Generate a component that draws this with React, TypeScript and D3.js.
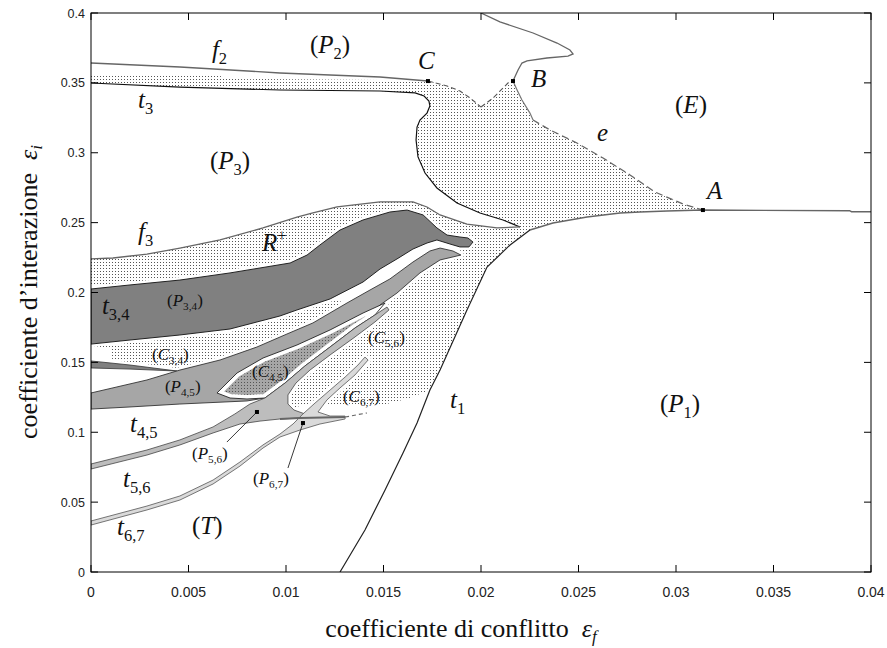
import React from 'react';
import * as d3 from 'd3';

type P = [number, number];

const xTicks = [0, 0.005, 0.01, 0.015, 0.02, 0.025, 0.03, 0.035, 0.04];
const yTicks = [0, 0.05, 0.1, 0.15, 0.2, 0.25, 0.3, 0.35, 0.4];
const xTickLabels = ['0', '0.005', '0.01', '0.015', '0.02', '0.025', '0.03', '0.035', '0.04'];
const yTickLabels = ['0', '0.05', '0.1', '0.15', '0.2', '0.25', '0.3', '0.35', '0.4'];

// boundary curves (data units: [eps_f, eps_i])
const f2Line: P[] = [[0, 0.3642], [0.00456, 0.3614], [0.00969, 0.3571], [0.01482, 0.3542], [0.01728, 0.3513]];
const t3Line: P[] = [[0, 0.3499], [0.00456, 0.347], [0.00969, 0.3449], [0.01482, 0.3442], [0.01662, 0.3428], [0.01708, 0.3406], [0.01733, 0.337], [0.01738, 0.3335], [0.01723, 0.3284], [0.01687, 0.3234], [0.01672, 0.3184], [0.01667, 0.3091], [0.01677, 0.297], [0.01713, 0.2855], [0.01774, 0.2748], [0.01877, 0.264], [0.01995, 0.2569], [0.02113, 0.2519], [0.022, 0.2469]];
const f3Line: P[] = [[0, 0.224], [0.00113, 0.2247], [0.00287, 0.2275], [0.00456, 0.2318], [0.00662, 0.2376], [0.00882, 0.2462], [0.01056, 0.254], [0.01138, 0.2569], [0.01262, 0.2612], [0.01482, 0.2648], [0.01651, 0.2648], [0.01723, 0.2612], [0.0179, 0.2555], [0.01928, 0.249], [0.02082, 0.2462], [0.022, 0.2469]];
const vDashLeft: P[] = [[0.01728, 0.3513], [0.01826, 0.3478], [0.01892, 0.3442], [0.01944, 0.3392], [0.02, 0.3327]];
const vDashRight: P[] = [[0.02, 0.3327], [0.02062, 0.3392], [0.02113, 0.3463], [0.02138, 0.3499], [0.02164, 0.3513]];
const bRight: P[] = [[0.02164, 0.3513], [0.02185, 0.3449], [0.0221, 0.3377], [0.02251, 0.3284], [0.02267, 0.3234]];
const eDash: P[] = [[0.02267, 0.3234], [0.02354, 0.3163], [0.02492, 0.307], [0.02626, 0.2962], [0.02764, 0.2841], [0.02892, 0.2719], [0.03036, 0.2633], [0.03138, 0.259]];
const topCurve: P[] = [[0.02, 0.4], [0.02097, 0.3936], [0.02267, 0.3857], [0.0239, 0.3785], [0.02456, 0.3735], [0.02472, 0.3707], [0.02446, 0.3692], [0.02338, 0.3678], [0.02236, 0.3657], [0.0221, 0.3642], [0.0219, 0.3592], [0.02164, 0.3513]];
const aLine: P[] = [[0.02251, 0.2447], [0.02369, 0.2497], [0.02544, 0.254], [0.02713, 0.2569], [0.02815, 0.2576], [0.02954, 0.2583], [0.03138, 0.259], [0.0389, 0.2585], [0.039, 0.2578], [0.04, 0.2578]];
const t1Line: P[] = [[0.02251, 0.2447], [0.02149, 0.234], [0.02031, 0.2182], [0.01928, 0.1875], [0.0179, 0.1445], [0.01738, 0.1302], [0.01672, 0.1066], [0.016, 0.0852], [0.01508, 0.0587], [0.01405, 0.0301], [0.01277, 0]];
const t45Ext: P[] = [[0.00969, 0.1095], [0.01072, 0.1102], [0.01303, 0.1109]];
const t45Dash: P[] = [[0.01303, 0.1109], [0.01415, 0.1138]];

// regions
const dottedMain: P[] = [[0, 0.3557], [0.00662, 0.3549], [0.00713, 0.3528], [0.01482, 0.3521], [0.01728, 0.3513], [0.01826, 0.3478], [0.01892, 0.3442], [0.01944, 0.3392], [0.02, 0.3327], [0.02062, 0.3392], [0.02113, 0.3463], [0.02138, 0.3499], [0.02164, 0.3513], [0.02185, 0.3449], [0.0221, 0.3377], [0.02251, 0.3284], [0.02267, 0.3234], [0.02354, 0.3163], [0.02492, 0.307], [0.02626, 0.2962], [0.02764, 0.2841], [0.02892, 0.2719], [0.03036, 0.2633], [0.03138, 0.259], [0.02954, 0.2583], [0.02815, 0.2576], [0.02713, 0.2569], [0.02544, 0.254], [0.02369, 0.2497], [0.02251, 0.2447], [0.02149, 0.234], [0.02031, 0.2182], [0.01928, 0.1875], [0.0179, 0.1445], [0.01738, 0.1302], [0.01636, 0.1245], [0.01497, 0.1195], [0.01072, 0.1188], [0.01031, 0.1174], [0.00918, 0.1245], [0.00815, 0.1374], [0.00662, 0.1503], [0.00456, 0.1438], [0.002, 0.1481], [0.00113, 0.1496], [0.00097, 0.1603], [0, 0.1617]];
const darkRegion: P[] = [[0, 0.2025], [0.002, 0.2054], [0.00456, 0.2089], [0.00713, 0.214], [0.01021, 0.2211], [0.01108, 0.2268], [0.01174, 0.234], [0.01277, 0.2447], [0.01395, 0.2519], [0.01533, 0.2576], [0.01621, 0.259], [0.01703, 0.2555], [0.01774, 0.2462], [0.01826, 0.2411], [0.01892, 0.2397], [0.01933, 0.239], [0.01959, 0.2361], [0.01938, 0.2326], [0.01892, 0.2326], [0.01841, 0.2347], [0.01774, 0.2376], [0.01723, 0.2354], [0.01651, 0.2311], [0.01569, 0.224], [0.01482, 0.2168], [0.01395, 0.2075], [0.01226, 0.1954], [0.01056, 0.1875], [0.00969, 0.1832], [0.00713, 0.1739], [0.00456, 0.1696], [0.002, 0.166], [0, 0.1631]];
const whiteStrip: P[] = [[0.01226, 0.1954], [0.01395, 0.2075], [0.01482, 0.2168], [0.01569, 0.224], [0.01651, 0.2311], [0.01723, 0.2354], [0.01774, 0.2376], [0.01841, 0.2347], [0.01892, 0.2326], [0.01897, 0.2268], [0.01856, 0.2297], [0.0179, 0.2318], [0.01738, 0.2297], [0.01651, 0.2218], [0.01533, 0.2097], [0.01431, 0.2018], [0.01313, 0.1925]];
const wedge34: P[] = [[0, 0.151], [0.002, 0.1481], [0.00441, 0.1438], [0.002, 0.1452], [0, 0.146]];
const band45: P[] = [[0, 0.1281], [0.00287, 0.1374], [0.00456, 0.1445], [0.00662, 0.1517], [0.00851, 0.161], [0.01005, 0.1703], [0.01138, 0.1782], [0.01313, 0.1925], [0.01431, 0.2018], [0.01533, 0.2097], [0.01651, 0.2218], [0.01738, 0.2297], [0.0179, 0.2318], [0.01856, 0.2297], [0.01897, 0.2268], [0.0179, 0.2233], [0.01687, 0.214], [0.01569, 0.1996], [0.01482, 0.1911], [0.01379, 0.1767], [0.01226, 0.161], [0.01087, 0.1467], [0.00969, 0.1324], [0.00892, 0.1245], [0.008, 0.1224], [0.00456, 0.1202], [0.002, 0.1181], [0, 0.1166]];
const lens45: P[] = [[0.00646, 0.1281], [0.00749, 0.1424], [0.00882, 0.1531], [0.01056, 0.1624], [0.01226, 0.1732], [0.01395, 0.1853], [0.01508, 0.1925], [0.01456, 0.1839], [0.01354, 0.1746], [0.01226, 0.161], [0.01097, 0.1474], [0.00995, 0.1352], [0.00892, 0.1245], [0.008, 0.1238], [0.00713, 0.1245]];
const region56: P[] = [[0, 0.0773], [0.00287, 0.0873], [0.00456, 0.0945], [0.00626, 0.1038], [0.00738, 0.1131], [0.00815, 0.1202], [0.00892, 0.1245], [0.00995, 0.1352], [0.01097, 0.1474], [0.01226, 0.161], [0.01354, 0.1746], [0.01456, 0.1839], [0.01518, 0.1896], [0.01528, 0.1875], [0.01456, 0.1789], [0.01354, 0.1682], [0.01226, 0.1553], [0.01123, 0.1445], [0.01051, 0.1352], [0.0101, 0.1267], [0.0101, 0.1202], [0.01041, 0.1159], [0.01097, 0.1131], [0.01072, 0.1102], [0.00969, 0.1095], [0.00867, 0.108], [0.00764, 0.1059], [0.00626, 0.0995], [0.00456, 0.0909], [0.00287, 0.0837], [0, 0.0737]];
const region67: P[] = [[0, 0.0365], [0.00287, 0.0472], [0.00456, 0.0544], [0.00626, 0.0658], [0.00764, 0.0787], [0.00882, 0.0909], [0.00969, 0.0987], [0.01036, 0.1059], [0.01087, 0.1131], [0.01149, 0.1209], [0.01226, 0.1302], [0.01303, 0.1395], [0.01369, 0.1481], [0.01405, 0.1538], [0.01421, 0.1517], [0.01354, 0.141], [0.01277, 0.1317], [0.0121, 0.1231], [0.01164, 0.1145], [0.01226, 0.1116], [0.01303, 0.1116], [0.01303, 0.1095], [0.01174, 0.1059], [0.01072, 0.1016], [0.00969, 0.0966], [0.00882, 0.0887], [0.00764, 0.0758], [0.00626, 0.063], [0.00456, 0.0515], [0.00287, 0.0444], [0, 0.0336]];

const keyPoints: P[] = [[0.01728, 0.3513], [0.02164, 0.3513], [0.03138, 0.259], [0.00851, 0.1145], [0.01087, 0.1066]];
const leaders: [P, P][] = [[[0.00697, 0.093], [0.00851, 0.1145]], [[0.0101, 0.0744], [0.01087, 0.1066]]];

type L = { x: number; y: number; base: string; sub?: string; sup?: string; paren?: boolean; size: number };
const BIG = 25;
const SMALL = 17;
const labels: L[] = [
  { x: 0.0062, y: 0.3678, base: 'f', sub: '2', size: BIG },
  { x: 0.01123, y: 0.3714, base: 'P', sub: '2', paren: true, size: BIG },
  { x: 0.01677, y: 0.3599, base: 'C', size: BIG },
  { x: 0.02256, y: 0.347, base: 'B', size: BIG },
  { x: 0.02995, y: 0.3284, base: 'E', paren: true, size: BIG },
  { x: 0.02595, y: 0.3084, base: 'e', size: BIG },
  { x: 0.03159, y: 0.2669, base: 'A', size: BIG },
  { x: 0.00241, y: 0.332, base: 't', sub: '3', size: BIG },
  { x: 0.0061, y: 0.2884, base: 'P', sub: '3', paren: true, size: BIG },
  { x: 0.00241, y: 0.2376, base: 'f', sub: '3', size: BIG },
  { x: 0.00877, y: 0.2297, base: 'R', sup: '+', size: BIG },
  { x: 0.00056, y: 0.1846, base: 't', sub: '3,4', size: BIG },
  { x: 0.0039, y: 0.1903, base: 'P', sub: '3,4', paren: true, size: SMALL },
  { x: 0.00313, y: 0.1517, base: 'C', sub: '3,4', paren: true, size: SMALL },
  { x: 0.00379, y: 0.1288, base: 'P', sub: '4,5', paren: true, size: SMALL },
  { x: 0.00826, y: 0.1395, base: 'C', sub: '4,5', paren: true, size: SMALL },
  { x: 0.01421, y: 0.1639, base: 'C', sub: '5,6', paren: true, size: SMALL },
  { x: 0.01292, y: 0.1216, base: 'C', sub: '6,7', paren: true, size: SMALL },
  { x: 0.002, y: 0.1002, base: 't', sub: '4,5', size: BIG },
  { x: 0.01841, y: 0.1174, base: 't', sub: '1', size: BIG },
  { x: 0.02918, y: 0.1145, base: 'P', sub: '1', paren: true, size: BIG },
  { x: 0.00518, y: 0.0809, base: 'P', sub: '5,6', paren: true, size: SMALL },
  { x: 0.00831, y: 0.063, base: 'P', sub: '6,7', paren: true, size: SMALL },
  { x: 0.00164, y: 0.0608, base: 't', sub: '5,6', size: BIG },
  { x: 0.00133, y: 0.0265, base: 't', sub: '6,7', size: BIG },
  { x: 0.00518, y: 0.0272, base: 'T', paren: true, size: BIG },
];

const SERIF = "'Liberation Serif', 'Times New Roman', serif";
const SANS = "'Liberation Sans', Arial, sans-serif";

function Label({ l, px, py }: { l: L; px: number; py: number }) {
  const s = l.size;
  const ss = s * 0.66;
  const dSub = s * 0.24;
  const dSup = -s * 0.4;
  const back = l.sub ? -dSub : l.sup ? -dSup : 0;
  return (
    <text x={px} y={py} fontFamily={SERIF} fontSize={s} fill="#111">
      {l.paren && <tspan>(</tspan>}
      <tspan fontStyle="italic">{l.base}</tspan>
      {l.sub && <tspan fontSize={ss} dy={dSub}>{l.sub}</tspan>}
      {l.sup && <tspan fontSize={ss} dy={dSup}>{l.sup}</tspan>}
      {l.paren && <tspan dy={back}>)</tspan>}
    </text>
  );
}

export default function App() {
  const x = d3.scaleLinear().domain([0, 0.04]).range([91, 871]);
  const y = d3.scaleLinear().domain([0, 0.4]).range([572, 13]);
  const line = d3.line<P>().x(d => x(d[0])).y(d => y(d[1]));
  const open = (p: P[]) => line(p) || '';
  const closed = (p: P[]) => (line(p) || '') + 'Z';

  const grayRegions = [darkRegion, wedge34, band45, region56, region67];

  return (
    <svg width={887} height={648} style={{ position: 'absolute', left: 0, top: 0, background: '#fff' }}>
      <defs>
        <pattern id="dots" width={3} height={3} patternUnits="userSpaceOnUse">
          <rect x={1} y={1} width={1} height={1} fill="#555" shapeRendering="crispEdges" />
        </pattern>
        <clipPath id="plot">
          <rect x={x(0)} y={y(0.4)} width={x(0.04) - x(0)} height={y(0) - y(0.4)} />
        </clipPath>
        <clipPath id="lensclip">
          <path d={closed(lens45)} />
        </clipPath>
      </defs>
      <rect x={0} y={0} width={887} height={648} fill="#fff" />
      <g clipPath="url(#plot)">
        <path d={closed(dottedMain)} fill="url(#dots)" />
        <path d={closed([...t3Line, ...f3Line.slice().reverse()])} fill="#fff" />
        <path d={closed(whiteStrip)} fill="#fff" />
        {grayRegions.map((r, i) => (
          <path key={'h' + i} d={closed(r)} fill="#fff" stroke="#fff" strokeWidth={6} strokeLinejoin="round" />
        ))}
        <path d={closed(darkRegion)} fill="#808080" stroke="#222" strokeWidth={1} />
        <path d={closed(wedge34)} fill="#808080" stroke="#333" strokeWidth={0.8} />
        <path d={closed(band45)} fill="#a6a6a6" stroke="#333" strokeWidth={0.9} />
        <path d={closed(lens45)} fill="url(#dots)" />
        <path d={closed(lens45)} fill="none" stroke="#fff" strokeWidth={8} clipPath="url(#lensclip)" />
        <path d={closed(lens45)} fill="none" stroke="#222" strokeWidth={0.9} />
        <path d={closed(region56)} fill="#bdbdbd" stroke="#444" strokeWidth={0.8} />
        <path d={closed(region67)} fill="#dadada" stroke="#555" strokeWidth={0.8} />

        <path d={open(f2Line)} fill="none" stroke="#666" strokeWidth={1.4} />
        <path d={open(t3Line)} fill="none" stroke="#111" strokeWidth={1.2} />
        <path d={open(f3Line)} fill="none" stroke="#666" strokeWidth={1.3} />
        <path d={open(vDashLeft)} fill="none" stroke="#555" strokeWidth={1.1} strokeDasharray="5 3" />
        <path d={open(vDashRight)} fill="none" stroke="#555" strokeWidth={1.1} strokeDasharray="5 3" />
        <path d={open(bRight)} fill="none" stroke="#777" strokeWidth={1.2} />
        <path d={open(eDash)} fill="none" stroke="#666" strokeWidth={1.3} strokeDasharray="7 4" />
        <path d={open(topCurve)} fill="none" stroke="#666" strokeWidth={1.3} />
        <path d={open(aLine)} fill="none" stroke="#666" strokeWidth={1.4} />
        <path d={open(t1Line)} fill="none" stroke="#222" strokeWidth={1.2} />
        <path d={open(t45Ext)} fill="none" stroke="#666" strokeWidth={2} />
        <path d={open(t45Dash)} fill="none" stroke="#666" strokeWidth={1.2} strokeDasharray="4 3" />

        {leaders.map((s, i) => (
          <line key={'ld' + i} x1={x(s[0][0])} y1={y(s[0][1])} x2={x(s[1][0])} y2={y(s[1][1])} stroke="#222" strokeWidth={0.9} />
        ))}
        {keyPoints.map((p, i) => (
          <rect key={'kp' + i} x={x(p[0]) - 2} y={y(p[1]) - 2} width={4} height={4} fill="#000" />
        ))}
      </g>

      <rect x={x(0)} y={y(0.4)} width={x(0.04) - x(0)} height={y(0) - y(0.4)} fill="none" stroke="#000" strokeWidth={1} />
      {xTicks.map((t, i) => (
        <g key={'xt' + i}>
          <line x1={x(t)} x2={x(t)} y1={y(0)} y2={y(0) - 7} stroke="#000" />
          <line x1={x(t)} x2={x(t)} y1={y(0.4)} y2={y(0.4) + 7} stroke="#000" />
          <text x={x(t)} y={y(0) + 25} fontFamily={SANS} fontSize={14} textAnchor="middle" fill="#222">{xTickLabels[i]}</text>
        </g>
      ))}
      {yTicks.map((t, i) => (
        <g key={'yt' + i}>
          <line x1={x(0)} x2={x(0) + 7} y1={y(t)} y2={y(t)} stroke="#000" />
          <line x1={x(0.04)} x2={x(0.04) - 7} y1={y(t)} y2={y(t)} stroke="#000" />
          <text x={x(0) - 6} y={y(t) + 4.5} fontFamily={SANS} fontSize={12.5} textAnchor="end" fill="#222">{yTickLabels[i]}</text>
        </g>
      ))}

      {labels.map((l, i) => (
        <Label key={'lb' + i} l={l} px={x(l.x)} py={y(l.y)} />
      ))}

      <text x={461} y={637} fontFamily={SERIF} fontSize={26} textAnchor="middle" fill="#111">
        coefficiente di conflitto{'\u00a0\u00a0'}<tspan fontStyle="italic">ε</tspan><tspan fontSize={17} dy={5} fontStyle="italic">f</tspan>
      </text>
      <text transform="translate(37,292) rotate(-90)" fontFamily={SERIF} fontSize={26} textAnchor="middle" fill="#111">
        coefficiente d’interazione{'\u00a0\u00a0'}<tspan fontStyle="italic">ε</tspan><tspan fontSize={17} dy={5} fontStyle="italic">i</tspan>
      </text>
    </svg>
  );
}
